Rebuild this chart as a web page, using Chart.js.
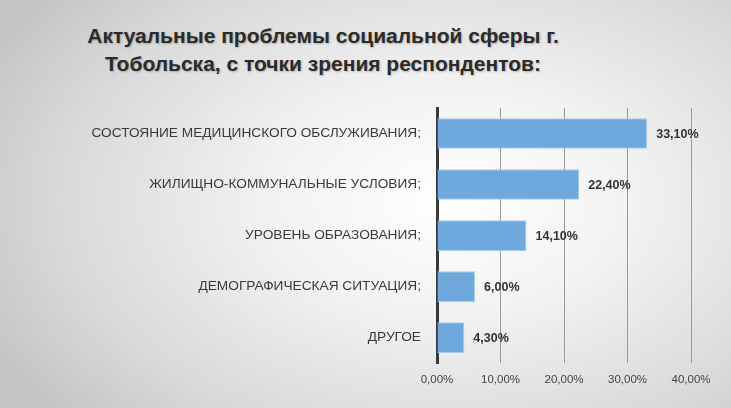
<!DOCTYPE html>
<html>
<head>
<meta charset="utf-8">
<script src="https://cdn.jsdelivr.net/npm/chart.js@4"></script>
<style>
  html, body { margin: 0; padding: 0; }
  body {
    width: 731px; height: 408px; overflow: hidden; position: relative;
    background: radial-gradient(ellipse 520px 330px at 450px 200px, #ffffff 0%, #f2f2f2 35%, #d9d9d9 75%, #c4c4c4 100%);
  }
  #title {
    position: absolute; left: 0; top: 22px; width: 646px;
    text-align: center; font: bold 21px "Liberation Sans", sans-serif;
    line-height: 28px; color: #2b2b2b; text-shadow: 1px 1px 2px rgba(0,0,0,0.25);
  }
  #chart { position: absolute; left: 0; top: 0; }
</style>
</head>
<body>
<div id="title">Актуальные проблемы социальной сферы г.<br>Тобольска, с точки зрения респондентов:</div>
<canvas id="chart" width="731" height="408"></canvas>
<script>
// data
const categories = [
  'СОСТОЯНИЕ МЕДИЦИНСКОГО ОБСЛУЖИВАНИЯ;',
  'ЖИЛИЩНО-КОММУНАЛЬНЫЕ УСЛОВИЯ;',
  'УРОВЕНЬ ОБРАЗОВАНИЯ;',
  'ДЕМОГРАФИЧЕСКАЯ СИТУАЦИЯ;',
  'ДРУГОЕ'
];
const shares = [33.1, 22.4, 14.1, 6.0, 4.3];
const xTicks = [0, 10, 20, 30, 40];

const fmt = v => v.toFixed(2).replace('.', ',') + '%';
const font = '"Liberation Sans", sans-serif';

// value labels right of each bar
const barLabels = {
  id: 'barLabels',
  afterDatasetsDraw(chart) {
    const ctx = chart.ctx;
    ctx.save();
    ctx.font = 'bold 12.5px ' + font;
    ctx.fillStyle = '#333';
    ctx.textBaseline = 'middle';
    chart.getDatasetMeta(0).data.forEach((bar, i) => {
      ctx.fillText(fmt(shares[i]), bar.x + 9, bar.y + 1);
    });
    ctx.restore();
  }
};

new Chart(document.getElementById('chart'), {
  type: 'bar',
  data: {
    labels: categories,
    datasets: [{
      data: shares,
      backgroundColor: '#6fa8dc',
      borderColor: '#a8cbeb',
      borderWidth: 1,
      barPercentage: 0.6,
      categoryPercentage: 1
    }]
  },
  options: {
    indexAxis: 'y',
    responsive: false,
    animation: false,
    devicePixelRatio: 1,
    layout: { padding: { top: 108, right: 40, bottom: 11, left: 0 } },
    plugins: { legend: { display: false }, tooltip: { enabled: false } },
    scales: {
      x: {
        min: xTicks[0],
        max: xTicks[xTicks.length - 1],
        afterBuildTicks: s => { s.ticks = xTicks.map(v => ({ value: v })); },
        grid: { color: '#9a9a9a', lineWidth: 1, drawTicks: false },
        border: { display: false },
        ticks: { callback: v => fmt(v), color: '#444', font: { family: font, size: 11.5 }, padding: 10 }
      },
      y: {
        afterFit: s => { s.width = 437; },
        grid: { display: false },
        border: { display: true, color: '#3a3a3a', width: 3 },
        ticks: { color: '#3a3a3a', font: { family: font, size: 13.7 }, padding: 8 }
      }
    }
  },
  plugins: [barLabels]
});
</script>
</body>
</html>
